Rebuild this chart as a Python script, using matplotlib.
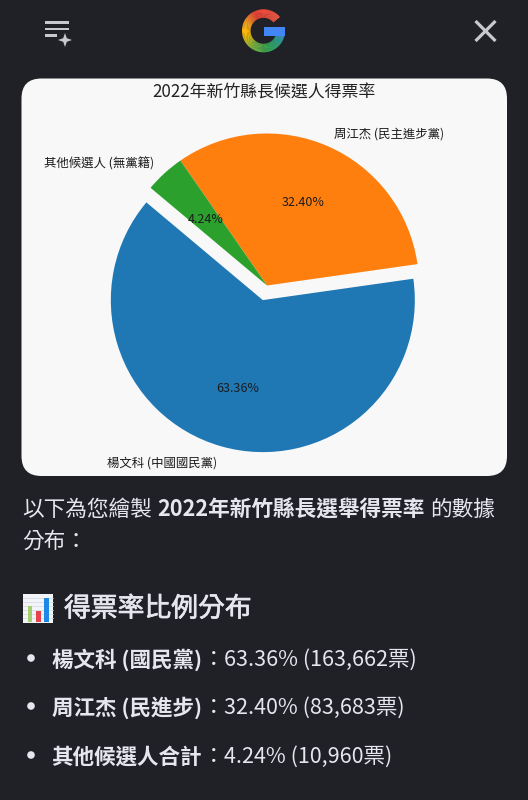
import matplotlib
matplotlib.use("Agg")
import matplotlib.pyplot as plt
import matplotlib.colors as mcolors
import matplotlib.patheffects as pe
from matplotlib.patches import FancyBboxPatch, Wedge, Rectangle, Circle, Polygon

CJK = ['Noto Sans CJK TC', 'DejaVu Sans']
plt.rcParams['font.family'] = CJK

candidates = ['楊文科 (中國國民黨)', '周江杰 (民主進步黨)', '其他候選人 (無黨籍)']
shares = [63.36, 32.40, 4.24]
colors = ['#1f77b4', '#ff7f0e', '#2ca02c']
explode = [0.1, 0, 0]
chart_title = '2022年新竹縣長候選人得票率'

intro_parts = [('以下為您繪製', 'normal', 22), ('2022年新竹縣長選舉得票率', 'bold', 157), ('的數據', 'normal', 430)]
intro_line2 = '分布：'
heading = '得票率比例分布'
bullet_names = ['楊文科 (國民黨)', '周江杰 (民進步)', '其他候選人合計']
bullet_values = ['63.36% (163,662票)', '32.40% (83,683票)', '4.24% (10,960票)']
bullet_y = [658, 706, 755]

BG = '#202126'
FG = '#e6e7ee'
ICON = '#c8c9ce'
W, H = 528, 800
TY = 2  # vertical correction for the CJK font's centre line
fig = plt.figure(figsize=(W / 100, H / 100), dpi=100, facecolor=BG)
pg = fig.add_axes([0, 0, 1, 1])
pg.set_xlim(0, W)
pg.set_ylim(H, 0)
pg.axis('off')

# card
pg.add_patch(FancyBboxPatch((21.5, 78.5), 485.5, 397.5, boxstyle='round,pad=0,rounding_size=20',
                            fc='#f8f8f8', ec='none', mutation_scale=1))

# menu icon
for y, x2 in [(22.5, 69), (29, 69), (35.7, 57)]:
    pg.add_patch(Rectangle((44.5, y - 1.4), x2 - 44.5, 2.8, fc=ICON, ec='none'))
pg.add_patch(Polygon([(65, 33), (66.8, 38.2), (72, 40), (66.8, 41.8), (65, 47), (63.2, 41.8), (58, 40), (63.2, 38.2)],
                     fc=ICON, ec='none'))
# close icon
pg.plot([475.5, 495.5], [21, 41], color=ICON, lw=2.3, solid_capstyle='butt')
pg.plot([495.5, 475.5], [21, 41], color=ICON, lw=2.3, solid_capstyle='butt')

# G logo: blended ring, visual angles negated because the y axis is inverted
ring = [(40, '#f05a45'), (115, '#ea4335'), (155, '#f6a623'), (190, '#fbbc05'), (235, '#7cb342'),
        (285, '#34a853'), (325, '#2f9e8f'), (360, '#4285f4')]
lx, ly = 263.5, 30.8
for (a0, c0), (a1, c1) in zip(ring[:-1], ring[1:]):
    rgb0, rgb1 = mcolors.to_rgb(c0), mcolors.to_rgb(c1)
    n = max(2, (a1 - a0) // 3)
    for i in range(n):
        f = i / n
        col = tuple(p + (q - p) * f for p, q in zip(rgb0, rgb1))
        v1 = a0 + (a1 - a0) * i / n
        v2 = a0 + (a1 - a0) * (i + 1) / n + 0.6
        pg.add_patch(Wedge((lx, ly), 21.5, -v2, -v1, width=8.5, fc=col, ec='none'))
pg.add_patch(Rectangle((lx + 0.5, 27), 21, 9, fc='#4285f4', ec='none'))

# pie
R = 152
cx, cy = 267, 285.5
half = 190
ax = fig.add_axes([(cx - half) / W, 1 - (cy + half) / H, 2 * half / W, 2 * half / H])
wedges, texts, autotexts = ax.pie(shares, labels=candidates, colors=colors, explode=explode,
                                  startangle=140, autopct='%.2f%%', labeldistance=1.1, pctdistance=0.6,
                                  textprops={'fontsize': 8.95, 'color': '#1c1c1c'})
ax.set_xlim(-half / R, half / R)
ax.set_ylim(-half / R, half / R)
ax.set_aspect('equal')
for t in texts:
    x, y = t.get_position()
    t.set_position((x, y - TY / R))
for t in autotexts:
    t.set_fontsize(9.0)
    x, y = t.get_position()
    t.set_position((x, y - 1 / R))

pg.text(264, 91 + TY, chart_title, ha='center', va='center', fontsize=12.2, color='#222222')

# text below
for s, w, x in intro_parts:
    pg.text(x, 508 + TY, s, fontsize=15.6, fontweight=w, color=FG, ha='left', va='center')
pg.text(22, 540 + TY, intro_line2, fontsize=15.6, color=FG, ha='left', va='center')

# chart emoji
pg.add_patch(Rectangle((23.3, 594), 29.4, 29, fc='#f2f4f7', ec='none', zorder=1))
for gy in range(598, 622, 4):
    pg.plot([23.3, 52.7], [gy, gy], color='#cfd8e3', lw=0.5, zorder=1.5)
for x, top, c in [(27.7, 605.7, '#a5d06f'), (36.3, 610.7, '#e8424a'), (44.3, 598, '#1e88e5')]:
    pg.add_patch(Rectangle((x, top), 4.3, 621.7 - top, fc=c, ec='none', zorder=2))
pg.text(64, 607 + TY, heading, fontsize=19.3, color=FG, ha='left', va='center',
        path_effects=[pe.withStroke(linewidth=0.5, foreground=FG)])

for y, name, val in zip(bullet_y, bullet_names, bullet_values):
    pg.add_patch(Circle((31, y), 3.8, fc=FG, ec='none'))
    pg.text(51.5, y + TY, name, fontsize=15.5, fontweight='bold', color=FG, ha='left', va='center')
    pg.text(203, y + TY, '：', fontsize=15.5, color=FG, ha='left', va='center')
    pg.text(224.5, y + TY, val, fontsize=15.5, color=FG, ha='left', va='center')

fig.savefig('out.png', dpi=100, facecolor=BG)
